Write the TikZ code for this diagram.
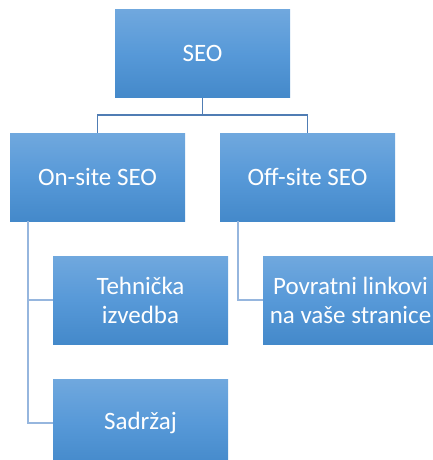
\documentclass[tikz,border=0pt]{standalone}
\usepackage{fontspec}
\setmainfont{Carlito}
\definecolor{boxtop}{RGB}{112,168,222}
\definecolor{boxmid}{RGB}{87,153,216}
\definecolor{boxbot}{RGB}{68,137,202}
\definecolor{linedark}{RGB}{80,125,180}
\definecolor{linelight}{RGB}{150,182,222}
\tikzset{
  box/.style={rectangle, minimum width=175pt, minimum height=88pt, inner sep=0pt,
    top color=boxtop, bottom color=boxbot, middle color=boxmid,
    text=white, font=\fontsize{25}{29}\selectfont, align=center},
  conn/.style={line width=1.5pt, linelight},
  conntop/.style={line width=1.5pt, linedark}
}
\begin{document}
\begin{tikzpicture}[x=1pt,y=-1pt]
\useasboundingbox (0,0) rectangle (433,460);
\begin{scope}
\clip (0,0) rectangle (433,460);
\node[box] (seo) at (202.5,53.5) {SEO};
\node[box] (on) at (97.5,177) {On-site SEO};
\node[box] (off) at (307.5,177) {Off-site SEO};
\node[box] (teh) at (140.5,300) {Tehnička\\izvedba};
\node[box] (pov) at (350.5,300) {Povratni linkovi\\na vaše stranice};
\node[box] (sad) at (140.5,423) {Sadržaj};
\coordinate (j) at (202.5,115);
\draw[conntop] (seo.south) -- (j);
\draw[conntop] (j) -| (on.north);
\draw[conntop] (j) -| (off.north);
\draw[conn] ([xshift=-69.5pt]on.south) |- (teh.west);
\draw[conn] ([xshift=-69.5pt]on.south) |- (sad.west);
\draw[conn] ([xshift=-69.5pt]off.south) |- (pov.west);
\end{scope}
\end{tikzpicture}
\end{document}
